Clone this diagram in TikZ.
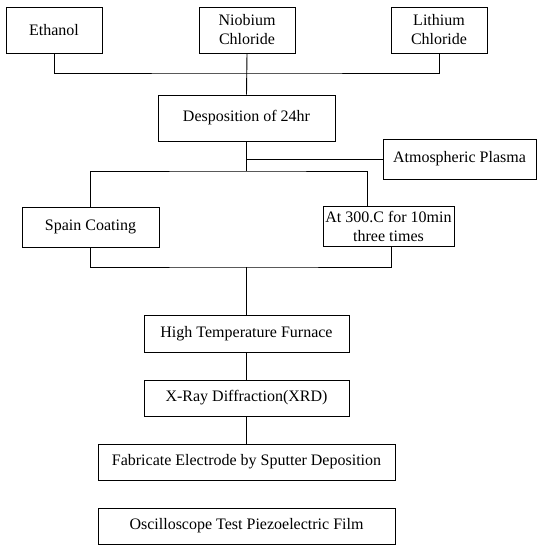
\documentclass[tikz,border=0pt]{standalone}
\usepackage{fontspec}
\setmainfont{Liberation Serif}
\usepackage{tikz}

\tikzset{
 stepbox/.style={draw, line width=0.9pt, rectangle, align=center, inner sep=0pt,
  font=\fontsize{16}{19}\selectfont},
 link/.style={line width=0.9pt}
}

\begin{document}
\begin{tikzpicture}[x=1pt,y=-1pt]
\useasboundingbox (0,0) rectangle (541,550);

% raw materials
\node[stepbox, minimum width=96pt, minimum height=46pt] (eth) at (54,30) {Ethanol};
\node[stepbox, minimum width=96pt, minimum height=46pt] (nio) at (247,30) {Niobium\\Chloride};
\node[stepbox, minimum width=96pt, minimum height=46pt] (lit) at (439,30) {Lithium\\Chloride};

% deposition and treatment
\node[stepbox, minimum width=177pt, minimum height=46pt] (dep) at (246.5,118) {Desposition of 24hr};
\node[stepbox, minimum width=153pt, minimum height=40pt] (atm) at (459.5,159) {Atmospheric Plasma};
\node[stepbox, minimum width=137pt, minimum height=40pt] (spa) at (90.5,227) {Spain Coating};
\node[stepbox, minimum width=131pt, minimum height=40pt] (hot) at (388.5,226) {At 300.C for 10min\\three times};

% final steps
\node[stepbox, minimum width=205pt, minimum height=37pt] (fur) at (246.5,333.5) {High Temperature Furnace};
\node[stepbox, minimum width=205pt, minimum height=36pt] (xrd) at (246.5,398) {X-Ray Diffraction(XRD)};
\node[stepbox, minimum width=297pt, minimum height=36pt] (ele) at (246.5,462) {Fabricate Electrode by Sputter Deposition};
\node[stepbox, minimum width=297pt, minimum height=36pt] (osc) at (246.5,526) {Oscilloscope Test Piezoelectric Film};

% joints
\coordinate (mix) at (247,73);
\coordinate (split) at (246.5,171);
\coordinate (hotin) at (367,206);
\coordinate (hotout) at (391,246);
\coordinate (join) at (246.5,267);

\draw[link] (eth.south) |- (mix) -| (lit.south);
\draw[link] (nio.south) -- (dep.north);
\draw[link] (dep.south) -- (split);
\draw[link] (atm.west) -- (atm.west -| split);
\draw[link] (spa.north) |- (split) -| (hotin);
\draw[link] (spa.south) |- (join) -| (hotout);
\draw[link] (join) -- (fur.north);
\draw[link] (fur.south) -- (xrd.north);
\draw[link] (xrd.south) -- (ele.north);

\end{tikzpicture}
\end{document}
